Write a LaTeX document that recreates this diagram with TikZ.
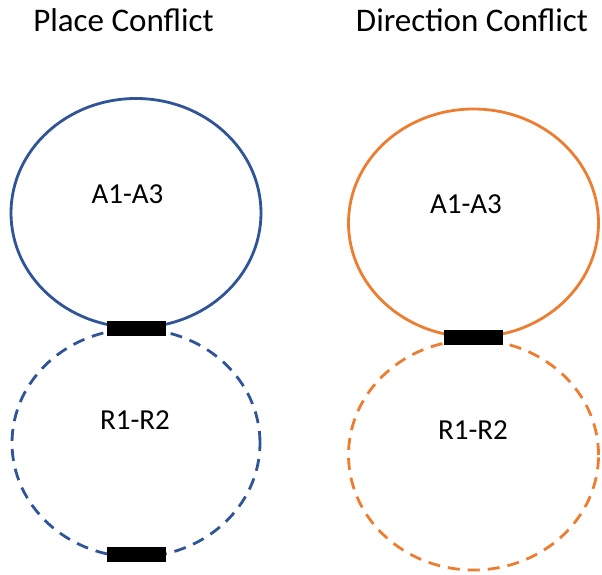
\documentclass[tikz,border=0pt]{standalone}
\usepackage{fontspec}
\setmainfont{Carlito}
\usetikzlibrary{shapes.geometric}
\definecolor{ringblue}{HTML}{2F5597}
\definecolor{ringorange}{HTML}{ED7D31}
\tikzset{
  ring/.style={ellipse, draw, line width=2.8pt, minimum width=250pt, minimum height=229pt, inner sep=0pt},
  dashring/.style={ring, dash pattern=on 12pt off 8pt},
  bar/.style={rectangle, fill=black, draw=black, line width=0.4pt, minimum width=58pt, minimum height=14pt, inner sep=0pt},
  title/.style={font=\fontsize{33}{39}\selectfont, anchor=base, inner sep=0pt},
  lbl/.style={font=\fontsize{29}{34}\selectfont, anchor=base, inner sep=0pt}
}
\begin{document}
\begin{tikzpicture}[x=1pt,y=-1pt]
\useasboundingbox (0,0) rectangle (602,575);
\fill[white] (0,0) rectangle (602,575);
% titles
\node[title] (t1) at (123.5,31.5) {Place Conflict};
\node[title] (t2) at (472,31.5) {Direction Conflict};
% left: place conflict
\node[ring, draw=ringblue] (la) at (136,213) {};
\node[dashring, draw=ringblue, minimum height=228pt, minimum width=248pt] (lr) at (136,443) {};
\node[lbl] (laT) at (127.5,203) {A1-A3};
\node[lbl] (lrT) at (135,429) {R1-R2};
\node[bar] (lb1) at (136,328) {};
\node[bar] (lb2) at (136,554.5) {};
% right: direction conflict
\node[ring, draw=ringorange, minimum height=228pt] (ra) at (473.5,223) {};
\node[dashring, draw=ringorange, minimum height=230pt] (rr) at (473.5,455) {};
\node[lbl] (raT) at (466,213) {A1-A3};
\node[lbl] (rrT) at (473,439) {R1-R2};
\node[bar] (rb1) at (473.5,337.5) {};
\end{tikzpicture}
\end{document}
